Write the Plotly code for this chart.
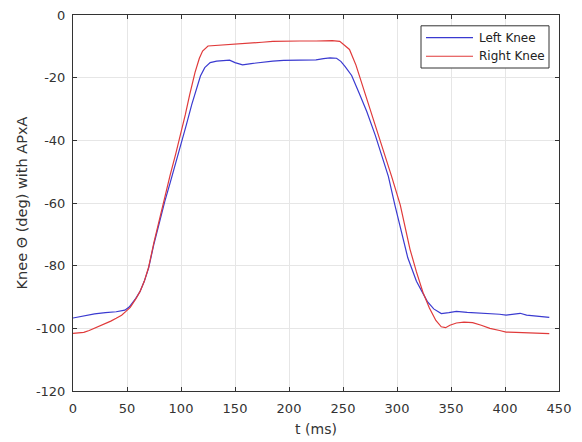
import plotly.graph_objects as go

# Left Knee (blue)
t_left = [0, 10, 20, 30, 40, 48, 52, 58, 62, 66, 70, 75, 80, 85, 90, 95, 100, 105, 110, 115,
          118, 122, 127, 133, 140, 145, 150, 157, 165, 175, 185, 195, 205, 215, 225, 232, 238,
          244, 248, 252, 258, 265, 272, 280, 287, 292, 298, 305, 310, 318, 324, 328, 334, 341,
          348, 355, 365, 375, 385, 395, 401, 408, 414, 420, 430, 441]
v_left = [-96.7, -96.0, -95.4, -95.0, -94.7, -94.2, -93.2, -90.5, -88.3, -85.0, -80.8, -73.0,
          -66.0, -59.5, -53.5, -47.5, -41.5, -35.0, -28.5, -22.5, -19.5, -16.8, -15.2, -14.7,
          -14.5, -14.4, -15.2, -15.9, -15.5, -15.0, -14.7, -14.5, -14.4, -14.4, -14.3, -13.9,
          -13.7, -13.8, -14.8, -16.5, -19.3, -25.0, -30.8, -38.5, -46.0, -51.5, -60.6, -70.5,
          -77.5, -85.0, -89.0, -91.4, -93.8, -95.3, -95.0, -94.6, -94.9, -95.1, -95.2, -95.5,
          -95.8, -95.6, -95.2, -95.8, -96.1, -96.5]

# Right Knee (red)
t_right = [0, 5, 10, 15, 20, 25, 30, 35, 40, 45, 49, 53, 58, 62, 66, 70, 75, 80, 85, 90, 95,
           100, 104, 108, 113, 117, 120, 125, 135, 145, 155, 165, 175, 185, 195, 210, 225, 240,
           247, 251, 256, 262, 268, 275, 282, 288, 295, 303, 308, 312, 318, 324, 330, 336, 341,
           345, 349, 355, 362, 370, 378, 386, 395, 401, 410, 420, 430, 441]
v_right = [-101.6, -101.5, -101.3, -100.7, -100.0, -99.3, -98.5, -97.7, -96.8, -95.8, -94.6,
           -93.3, -90.7, -88.3, -85.0, -80.5, -72.5, -65.0, -58.0, -51.0, -44.5, -37.8, -31.8,
           -25.5, -18.3, -13.8, -11.5, -9.9, -9.7, -9.4, -9.1, -8.9, -8.7, -8.4, -8.3, -8.3,
           -8.3, -8.2, -8.4, -9.5, -11.0, -16.0, -22.5, -29.7, -37.0, -44.0, -51.5, -60.6,
           -68.0, -74.7, -82.0, -88.5, -93.5, -97.5, -99.5, -99.8, -99.0, -98.3, -98.0, -98.2,
           -99.0, -100.0, -100.7, -101.2, -101.3, -101.4, -101.5, -101.7]

series_names = ["Left Knee", "Right Knee"]
series_colors = ["#3a3ad0", "#e03a3a"]

x_ticks = [0, 50, 100, 150, 200, 250, 300, 350, 400, 450]
y_ticks = [0, -20, -40, -60, -80, -100, -120]

FONT = "DejaVu Sans, Verdana, sans-serif"
TXT = "#333333"

fig = go.Figure()
fig.add_trace(go.Scatter(x=t_left, y=v_left, mode="lines", name=series_names[0],
                         line=dict(color=series_colors[0], width=1.2)))
fig.add_trace(go.Scatter(x=t_right, y=v_right, mode="lines", name=series_names[1],
                         line=dict(color=series_colors[1], width=1.2)))

axis_common = dict(showgrid=True, gridcolor="#e6e6e6", gridwidth=1, zeroline=False,
                   showline=True, linecolor="#333333", linewidth=1, mirror="ticks",
                   ticks="inside", ticklen=4, tickcolor="#333333",
                   tickfont=dict(family=FONT, size=13, color=TXT))

fig.update_xaxes(range=[0, 450], tickvals=x_ticks, ticktext=[str(v) for v in x_ticks],
                 ticklabelstandoff=5,
                 title=dict(text="t (ms)", font=dict(family=FONT, size=14, color=TXT), standoff=9),
                 **axis_common)
fig.update_yaxes(range=[-120, 0], tickvals=y_ticks, ticktext=[str(v) for v in y_ticks],
                 ticklabelstandoff=4,
                 title=dict(text="Knee Θ (deg) with APxA",
                            font=dict(family=FONT, size=14.5, color=TXT), standoff=4),
                 **axis_common)

# Legend box drawn manually (MATLAB style, long line samples)
W, H, L, T = 486.0, 383.0, 73.0, 8.0
def px(x):
    return (x - L) / W
def py(y):
    return 1 - (y - T) / H

shapes = [dict(type="rect", xref="paper", yref="paper", x0=px(421), x1=px(549), y0=py(62), y1=py(19),
               line=dict(color="#333333", width=1), fillcolor="white", layer="above")]
annotations = []
for i, (nm, col) in enumerate(zip(series_names, series_colors)):
    yy = 31 + 19 * i
    shapes.append(dict(type="line", xref="paper", yref="paper", x0=px(426), x1=px(473),
                       y0=py(yy), y1=py(yy), line=dict(color=col, width=1.2), layer="above"))
    annotations.append(dict(xref="paper", yref="paper", x=px(477), y=py(yy), text=nm,
                            showarrow=False, xanchor="left", yanchor="middle",
                            font=dict(family=FONT, size=12, color="#222222")))

fig.update_layout(
    width=582, height=442,
    margin=dict(l=73, r=23, t=8, b=51),
    paper_bgcolor="white", plot_bgcolor="white",
    showlegend=False,
    shapes=shapes, annotations=annotations,
)

fig.write_html("out.html")
